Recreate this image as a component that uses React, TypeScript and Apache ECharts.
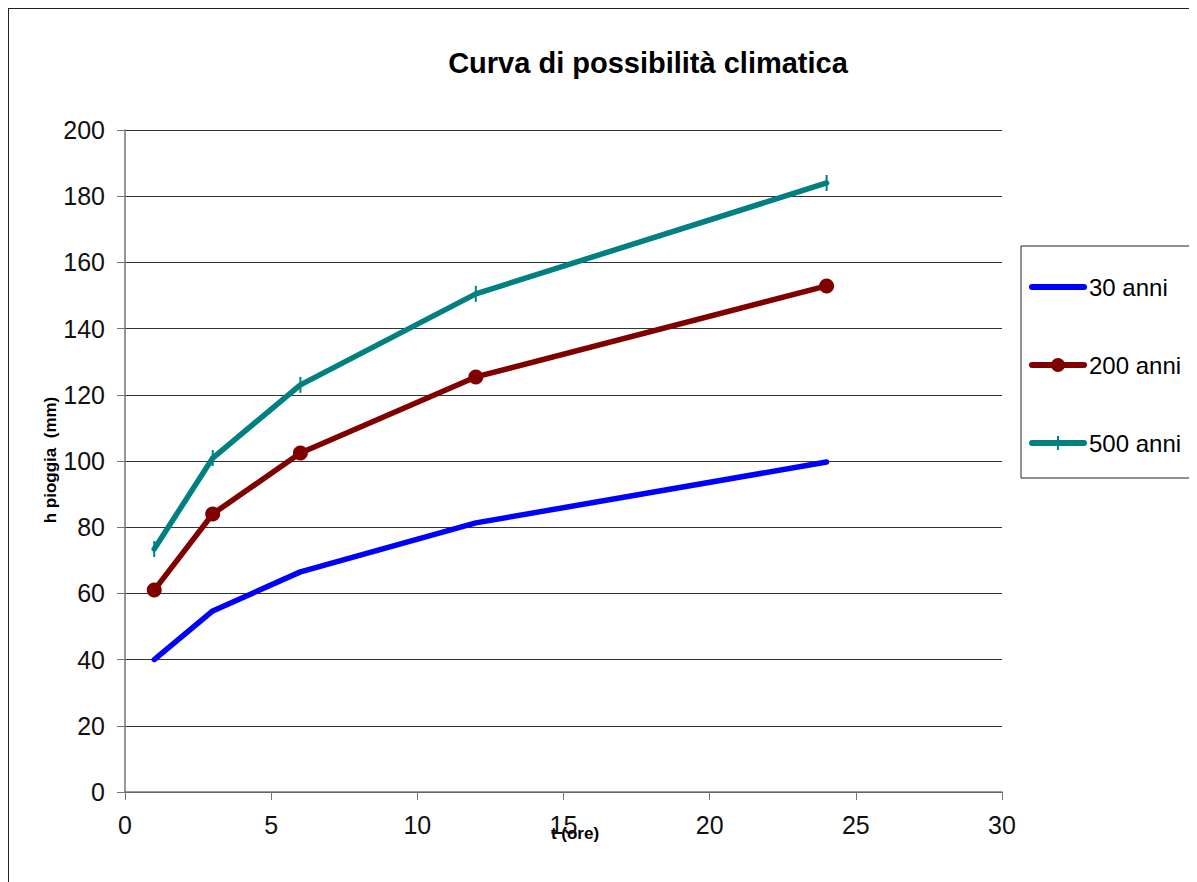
import React, { useEffect, useRef } from "react";
import * as echarts from "echarts";

const durations = [1, 3, 6, 12, 24];
const h30 = [40, 54.7, 66.5, 81.3, 99.7];
const h200 = [61, 84, 102.4, 125.4, 152.9];
const h500 = [73.4, 100.9, 123, 150.5, 184];
const seriesNames = ["30 anni", "200 anni", "500 anni"];
const titleText = "Curva di possibilità climatica";
const xName = "t (ore)";
const yName = "h pioggia  (mm)";

const pairs = (ys: number[]) => durations.map((x, i) => [x, ys[i]]);

// legend icons drawn in a 58x14 box
const bounds = "M0,0L0.05,0L0,0.05Z M58,14L57.95,14L58,13.95Z";
const bar = "M3,4L55,4A3,3 0 0 1 55,10L3,10A3,3 0 0 1 3,4Z";
const dot = "M22,7A7,7 0 1 1 36,7A7,7 0 1 1 22,7Z";
const tick = "M28,0L30,0L30,14L28,14Z";
const icons = [
  "path://" + bounds + " " + bar,
  "path://" + bounds + " " + bar + " " + dot,
  "path://" + bounds + " " + bar + " " + tick,
];

export default function App() {
  const ref = useRef<HTMLDivElement>(null);
  useEffect(() => {
    if (!ref.current) return;
    const chart = echarts.init(ref.current, undefined, { renderer: "svg" });
    const font = "Arial, 'Liberation Sans', sans-serif";
    chart.setOption({
      animation: false,
      backgroundColor: "#fff",
      grid: { left: 116, top: 121, width: 877, height: 662 },
      xAxis: {
        type: "value",
        min: 0,
        max: 30,
        interval: 5,
        axisLine: { show: true, lineStyle: { color: "#777", width: 1.5 } },
        axisTick: { show: true, length: 8, lineStyle: { color: "#777" } },
        splitLine: { show: false },
        axisLabel: { fontFamily: font, fontSize: 25, color: "#111", margin: 20 },
      },
      yAxis: {
        type: "value",
        min: 0,
        max: 200,
        interval: 20,
        axisLine: { show: true, lineStyle: { color: "#777", width: 1.5 } },
        axisTick: { show: true, length: 8, lineStyle: { color: "#777" } },
        splitLine: { show: true, lineStyle: { color: "#333", width: 1 } },
        axisLabel: { fontFamily: font, fontSize: 25, color: "#111", margin: 20 },
      },
      legend: {
        orient: "vertical",
        left: 1020,
        top: 266,
        padding: 0,
        itemWidth: 58,
        itemHeight: 14,
        itemGap: 54,
        symbolKeepAspect: false,
        data: seriesNames.map((name, i) => ({ name, icon: icons[i] })),
        textStyle: {
          fontFamily: font,
          fontSize: 24,
          color: "#000",
          padding: [0, 0, 0, -3],
        },
      },
      graphic: [
        {
          type: "rect",
          shape: { x: 1012, y: 237, width: 172, height: 232 },
          style: { fill: "none", stroke: "#222", lineWidth: 1 },
          z: -1,
        },
        {
          type: "text",
          x: 639,
          y: 54,
          style: {
            text: titleText,
            fontFamily: font,
            fontSize: 29,
            fontWeight: "bold",
            fill: "#000",
            align: "center",
            verticalAlign: "middle",
          },
        },
        {
          type: "text",
          x: 41,
          y: 451,
          rotation: Math.PI / 2,
          style: {
            text: yName,
            fontFamily: font,
            fontSize: 17,
            fontWeight: "bold",
            fill: "#000",
            align: "center",
            verticalAlign: "middle",
          },
        },
        {
          type: "text",
          x: 566,
          y: 824,
          style: {
            text: xName,
            fontFamily: font,
            fontSize: 17,
            fontWeight: "bold",
            fill: "#000",
            align: "center",
            verticalAlign: "middle",
          },
        },
      ],
      series: [
        {
          name: seriesNames[0],
          type: "line",
          data: pairs(h30),
          symbol: "none",
          lineStyle: { color: "#0000ff", width: 5.5, cap: "round", join: "round" },
          itemStyle: { color: "#0000ff" },
        },
        {
          name: seriesNames[1],
          type: "line",
          data: pairs(h200),
          symbol: "circle",
          symbolSize: 15,
          lineStyle: { color: "#800000", width: 5.5, cap: "round", join: "round" },
          itemStyle: { color: "#800000" },
        },
        {
          name: seriesNames[2],
          type: "line",
          data: pairs(h500),
          symbol: "rect",
          symbolSize: [2, 16],
          lineStyle: { color: "#008080", width: 5.5, cap: "round", join: "round" },
          itemStyle: { color: "#008080" },
        },
      ],
    });
    return () => chart.dispose();
  }, []);
  return (
    <div
      ref={ref}
      style={{
        width: 1188,
        height: 873,
        borderLeft: "1px solid #222",
        borderTop: "1px solid #222",
      }}
    />
  );
}
